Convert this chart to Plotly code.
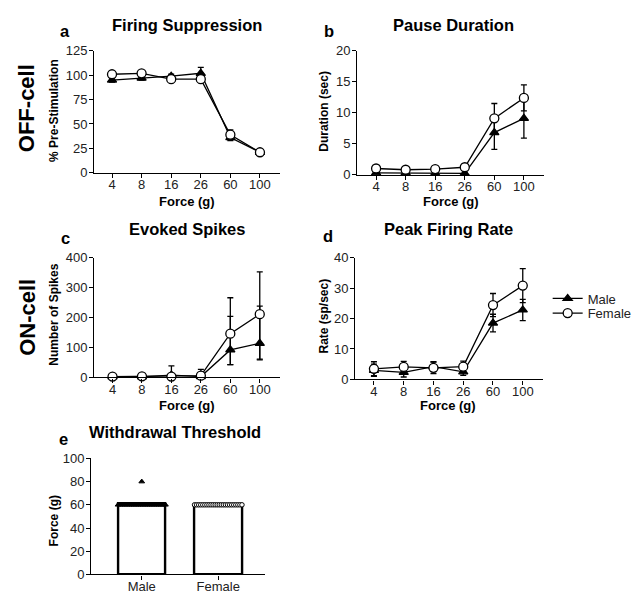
import numpy as np
import plotly.graph_objects as go

W, H = 637, 599
FONT = "Liberation Sans, Arial, sans-serif"

# ---------------- data ----------------
forces = ["4", "8", "16", "26", "60", "100"]

a_male = [95, 97, 99, 102, 36, 21]
a_male_err = [2, 2, 2, 6, 3, 2]
a_female = [101, 102, 96, 96, 39, 21]
a_female_err = [2, 2, 2, 2, 5, 2]

b_male = [0.3, 0.3, 0.2, 0.2, 6.8, 9.1]
b_male_err = [0.1, 0.1, 0.1, 0.1, 2.7, 3.2]
b_female = [1.0, 0.8, 0.9, 1.2, 9.1, 12.4]
b_female_err = [0.2, 0.2, 0.2, 0.2, 2.4, 2.1]

c_male = [2, 2, 8, 3, 92, 114]
c_male_plus = [2, 2, 31, 10, 112, 124]
c_male_minus = [2, 2, 8, 3, 49, 55]
c_female = [3, 4, 3, 6, 146, 211]
c_female_plus = [3, 4, 10, 21, 120, 141]
c_female_minus = [3, 4, 3, 6, 103, 150]

d_male = [3.0, 2.3, 4.2, 2.5, 18.5, 22.8]
d_male_err = [2.0, 1.5, 1.6, 1.2, 2.9, 3.5]
d_female = [3.5, 4.1, 3.8, 4.2, 24.4, 30.8]
d_female_err = [2.3, 1.8, 1.9, 1.8, 3.8, 5.6]

groups = ["Male", "Female"]
e_male = [60] * 22 + [80]
e_female = [60] * 24

# ---------------- layout helpers ----------------
def px_dom_x(x0, x1):
    return [x0 / W, x1 / W]

def px_dom_y(ytop, ybot):
    return [1 - ybot / H, 1 - ytop / H]

fig = go.Figure()

panels = {
    "a": ("x", "y", (95, 282), (45, 170), [-0.6, 5.67], [0, 125], 25),
    "b": ("x2", "y2", (360, 548), (45, 172), [-0.64, 5.67], [0, 20], 5),
    "c": ("x3", "y3", (95, 282), (257, 380), [-0.62, 5.68], [0, 400], 100),
    "d": ("x4", "y4", (358, 547), (257, 382), [-0.63, 5.67], [0, 40], 10),
    "e": ("x5", "y5", (92, 267), (463, 582), [-0.66, 1.61], [0, 100], 20),
}

axis_common = dict(
    showgrid=False, zeroline=False, showline=True, linecolor="black",
    linewidth=1.3, ticks="outside", ticklen=4, tickwidth=1.3, tickcolor="black",
    tickfont=dict(family=FONT, size=13, color="#222"), fixedrange=True,
)

layout_axes = {}
for name, (xa, ya, xd, yd, xr, yr, dt) in panels.items():
    xkey = "xaxis" + xa[1:]
    ykey = "yaxis" + ya[1:]
    xpos = np.arange(len(forces)) if name != "e" else np.arange(len(groups))
    xtext = forces if name != "e" else groups
    layout_axes[xkey] = dict(axis_common, domain=px_dom_x(*xd), range=xr,
                             anchor=ya, tickvals=list(xpos), ticktext=xtext,
                             ticklabelstandoff=-4)
    layout_axes[ykey] = dict(axis_common, domain=px_dom_y(*yd), range=yr,
                             anchor=xa, dtick=dt, tick0=0, ticklabelstandoff=-1)

def add_series(xa, ya, vals, plus, minus, sym, filled, name, show, legend):
    x = list(range(len(vals)))
    fig.add_trace(go.Scatter(
        x=x, y=vals, xaxis=xa, yaxis=ya, mode="lines+markers", name=name,
        legendgroup=name, showlegend=show, legend=legend, cliponaxis=False,
        line=dict(color="black", width=1.3),
        marker=dict(symbol=sym, size=8 if filled else 9,
                    color="black" if filled else "white",
                    line=dict(color="black", width=1.3)),
        error_y=dict(type="data", array=plus, arrayminus=minus, symmetric=False,
                     color="black", thickness=1.3, width=3),
    ))

add_series("x", "y", a_male, a_male_err, a_male_err, "triangle-up", True, "Male", True, "legend")
add_series("x", "y", a_female, a_female_err, a_female_err, "circle", False, "Female", True, "legend2")
add_series("x2", "y2", b_male, b_male_err, b_male_err, "triangle-up", True, "Male", False, "legend")
add_series("x2", "y2", b_female, b_female_err, b_female_err, "circle", False, "Female", False, "legend2")
add_series("x3", "y3", c_male, c_male_plus, c_male_minus, "triangle-up", True, "Male", False, "legend")
add_series("x3", "y3", c_female, c_female_plus, c_female_minus, "circle", False, "Female", False, "legend2")
add_series("x4", "y4", d_male, d_male_err, d_male_err, "triangle-up", True, "Male", False, "legend")
add_series("x4", "y4", d_female, d_female_err, d_female_err, "circle", False, "Female", False, "legend2")

# ---------------- panel e: bars + beeswarm ----------------
e_data = [e_male, e_female]
bar_means = [float(np.mean(v)) for v in e_data]
fig.add_trace(go.Bar(
    x=[0, 1], y=bar_means, xaxis="x5", yaxis="y5", width=0.62, showlegend=False,
    marker=dict(color="white", line=dict(color="black", width=2.4)),
))

def swarm_offsets(vals, half=0.31):
    vals = np.asarray(vals, dtype=float)
    offs = np.zeros(len(vals))
    for v in np.unique(vals):
        idx = np.where(vals == v)[0]
        if len(idx) > 1:
            offs[idx] = np.linspace(-half, half, len(idx))
    return offs

for gi, (vals, sym, filled) in enumerate([(e_male, "triangle-up", True),
                                          (e_female, "circle", False)]):
    offs = swarm_offsets(vals)
    fig.add_trace(go.Scatter(
        x=gi + offs, y=vals, xaxis="x5", yaxis="y5", mode="markers",
        showlegend=False, cliponaxis=False,
        marker=dict(symbol=sym, size=5 if filled else 4.5,
                    color="black" if filled else "white",
                    line=dict(color="black", width=1)),
    ))

# ---------------- annotations ----------------
ann = []
def text(x, y, s, size, bold=True, angle=0, color="black"):
    ann.append(dict(x=x / W, y=1 - y / H, xref="paper", yref="paper",
                    text=f"<b>{s}</b>" if bold else s, showarrow=False,
                    textangle=angle, xanchor="center", yanchor="middle",
                    font=dict(family=FONT, size=size, color=color)))

text(188, 18, "Firing Suppression", 16.5)
text(457, 18, "Pause Duration", 16.5)
text(188, 228, "Evoked Spikes", 16.5)
text(452, 228, "Peak Firing Rate", 16.5)
text(176, 436, "Withdrawal Threshold", 16.5)
text(66, 25, "a", 16.5)
text(332, 25, "b", 16.5)
text(66, 237, "c", 16.5)
text(331, 235, "d", 16.5)
text(64, 443, "e", 16.5)
text(27, 104, "OFF-cell", 22, angle=-90)
text(27, 318, "ON-cell", 22, angle=-90)
text(55, 106, "% Pre-Stimulation", 12, angle=-90)
text(327, 107, "Duration (sec)", 12, angle=-90)
text(55, 316, "Number of Spikes", 12, angle=-90)
text(327, 317, "Rate (sp/sec)", 12, angle=-90)
text(54, 527, "Force (g)", 12, angle=-90)
text(188, 199, "Force (g)", 13)
text(455, 199, "Force (g)", 13)
text(188, 409, "Force (g)", 13)
text(452, 409, "Force (g)", 13)

leg_common = dict(xanchor="left", yanchor="middle", bgcolor="rgba(0,0,0,0)",
                  itemwidth=30, font=dict(family=FONT, size=13, color="#222"))

fig.update_layout(
    width=W, height=H, margin=dict(l=0, r=0, t=0, b=0),
    paper_bgcolor="white", plot_bgcolor="white",
    annotations=ann, bargap=0,
    legend=dict(leg_common, x=552 / W, y=1 - 299 / H),
    legend2=dict(leg_common, x=552 / W, y=1 - 314 / H),
    **layout_axes,
)

fig.write_html("out.html")
